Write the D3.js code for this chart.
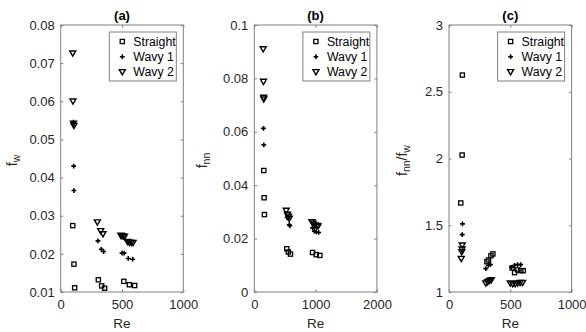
<!DOCTYPE html>
<html><head><meta charset="utf-8">
<script src="https://cdn.jsdelivr.net/npm/d3@7"></script>
<style>body{margin:0;background:#fff}svg{display:block;font-family:"Liberation Sans",Arial,sans-serif}</style>
</head><body><svg id="c" width="586" height="332"></svg>
<script>
// ---- Data ----
const seriesNames = ["Straight", "Wavy 1", "Wavy 2"];
const panelTitles = ["(a)", "(b)", "(c)"];

// Panel (a): f_w vs Re
const aStraightRe = [98, 108, 114, 307, 334, 358, 515, 560, 603];
const aStraightY  = [0.0274, 0.0173, 0.0111, 0.0132, 0.0116, 0.0110, 0.0128, 0.0119, 0.0117];
const aWavy1Re = [104, 106, 108, 304, 331, 350, 500, 517, 551, 587];
const aWavy1Y  = [0.0545, 0.0430, 0.0366, 0.0234, 0.0212, 0.0206, 0.0202, 0.0202, 0.0188, 0.0186];
const aWavy2Re = [98, 100, 104, 108, 299, 326, 345, 490, 500, 510, 520, 545, 560, 575, 590];
const aWavy2Y  = [0.0726, 0.0600, 0.0542, 0.0536, 0.0283, 0.0260, 0.0252, 0.0248, 0.0247, 0.0246, 0.0245, 0.0232, 0.0230, 0.0229, 0.0229];

// Panel (b): f_nn vs Re
const bStraightRe = [155, 160, 165, 530, 555, 590, 950, 1010, 1070];
const bStraightY  = [0.0455, 0.0353, 0.0290, 0.0162, 0.0150, 0.0142, 0.0148, 0.0140, 0.0137];
const bWavy1Re = [150, 155, 535, 555, 570, 580, 950, 980, 1010, 1050];
const bWavy1Y  = [0.0613, 0.0551, 0.0280, 0.0275, 0.0252, 0.0248, 0.0240, 0.0228, 0.0225, 0.0223];
const bWavy2Re = [145, 150, 152, 155, 520, 540, 555, 570, 940, 960, 990, 1020, 1040];
const bWavy2Y  = [0.0910, 0.0788, 0.0728, 0.0722, 0.0305, 0.0290, 0.0283, 0.0275, 0.0262, 0.0257, 0.0250, 0.0248, 0.0246];

// Panel (c): f_nn/f_w vs Re
const cStraightRe = [96, 107, 109, 309, 322, 342, 358, 515, 535, 560, 585, 605];
const cStraightY  = [1.667, 2.026, 2.625, 1.227, 1.240, 1.272, 1.285, 1.180, 1.145, 1.165, 1.160, 1.160];
const cWavy1Re = [110, 108, 300, 320, 338, 510, 535, 560, 585];
const cWavy1Y  = [1.51, 1.43, 1.175, 1.20, 1.205, 1.185, 1.20, 1.205, 1.205];
const cWavy2Re = [108, 106, 104, 100, 300, 315, 330, 345, 500, 520, 540, 560, 580, 600];
const cWavy2Y  = [1.35, 1.32, 1.30, 1.25, 1.065, 1.075, 1.085, 1.09, 1.065, 1.06, 1.06, 1.065, 1.07, 1.07];

// Axis ticks
const aXTicks = [0, 500, 1000], aYTicks = [0.01, 0.02, 0.03, 0.04, 0.05, 0.06, 0.07, 0.08];
const bXTicks = [0, 1000, 2000], bYTicks = [0, 0.02, 0.04, 0.06, 0.08, 0.1];
const cXTicks = [0, 500, 1000], cYTicks = [1, 1.5, 2, 2.5, 3];

const panels = [
  {title: panelTitles[0], left: 60.7, xDom: [0, 1000], yDom: [0.01, 0.08], xt: aXTicks, yt: aYTicks,
   series: [[aStraightRe, aStraightY], [aWavy1Re, aWavy1Y], [aWavy2Re, aWavy2Y]],
   ylab: [["f", 0], ["w", 1]], ylx: 17},
  {title: panelTitles[1], left: 254.3, xDom: [0, 2000], yDom: [0, 0.1], xt: bXTicks, yt: bYTicks,
   series: [[bStraightRe, bStraightY], [bWavy1Re, bWavy1Y], [bWavy2Re, bWavy2Y]],
   ylab: [["f", 0], ["nn", 1]], ylx: 207},
  {title: panelTitles[2], left: 449, xDom: [0, 1000], yDom: [1, 3], xt: cXTicks, yt: cYTicks,
   series: [[cStraightRe, cStraightY], [cWavy1Re, cWavy1Y], [cWavy2Re, cWavy2Y]],
   ylab: [["f", 0], ["nn", 1], ["/f", 0], ["w", 1]], ylx: 407}
];

const W = 122.6, plotTop = 25, plotBottom = 292;
const axisCol = "#808080", textCol = "#262626";
const svg = d3.select("#c");

function marker(g, type, x, y) {
  if (type === 0) {
    g.append("rect").attr("x", x - 2.1).attr("y", y - 2.1).attr("width", 4.2).attr("height", 4.2)
      .attr("fill", "none").attr("stroke", "#000").attr("stroke-width", 1.3);
  } else if (type === 1) {
    g.append("path").attr("d", `M${x-2.4},${y}H${x+2.4}M${x},${y-2.4}V${y+2.4}`)
      .attr("stroke", "#000").attr("stroke-width", 1.6).attr("fill", "none");
  } else {
    g.append("path").attr("d", `M${x-3},${y-2.3}L${x+3},${y-2.3}L${x},${y+2.9}Z`)
      .attr("fill", "none").attr("stroke", "#000").attr("stroke-width", 1.4).attr("stroke-linejoin", "miter");
  }
}

panels.forEach(p => {
  const x = d3.scaleLinear().domain(p.xDom).range([p.left, p.left + W]);
  const y = d3.scaleLinear().domain(p.yDom).range([plotBottom, plotTop]);
  const g = svg.append("g");

  g.append("rect").attr("x", p.left).attr("y", plotTop).attr("width", W).attr("height", plotBottom - plotTop)
    .attr("fill", "#fff").attr("stroke", axisCol).attr("stroke-width", 1);

  const fmt = d => String(+d.toFixed(4));
  const xa = g.append("g").attr("transform", `translate(0,${plotBottom})`)
    .call(d3.axisBottom(x).tickValues(p.xt).tickSize(-2.7).tickPadding(8).tickFormat(fmt));
  const xt2 = g.append("g").attr("transform", `translate(0,${plotTop})`)
    .call(d3.axisTop(x).tickValues(p.xt).tickSize(-2.7).tickFormat(""));
  const ya = g.append("g").attr("transform", `translate(${p.left},0)`)
    .call(d3.axisLeft(y).tickValues(p.yt).tickSize(-2.7).tickPadding(6).tickFormat(fmt));
  const ya2 = g.append("g").attr("transform", `translate(${p.left + W},0)`)
    .call(d3.axisRight(y).tickValues(p.yt).tickSize(-2.7).tickFormat(""));
  [xa, xt2, ya, ya2].forEach(a => {
    a.select(".domain").remove();
    a.selectAll("line").attr("stroke", axisCol);
    a.selectAll("text").attr("fill", textCol).style("font-size", "13px").style("font-family", '"Liberation Sans",Arial,sans-serif');
  });

  g.append("text").attr("x", p.left + W / 2).attr("y", 20).attr("text-anchor", "middle")
    .attr("font-weight", "bold").attr("font-size", 13).attr("fill", "#000").text(p.title);

  g.append("text").attr("x", p.left + W / 2).attr("y", 328).attr("text-anchor", "middle")
    .attr("font-size", 13.5).attr("fill", textCol).text("Re");

  const yl = g.append("text").attr("transform", `translate(${p.ylx},${(plotTop + plotBottom) / 2 + 2}) rotate(-90)`)
    .attr("text-anchor", "middle").attr("font-size", 14).attr("fill", textCol);
  p.ylab.forEach(([t, sub]) => {
    yl.append("tspan").attr("font-size", sub ? 10.5 : 14).attr("baseline-shift", sub ? "-3" : "0").text(t);
  });

  const dg = g.append("g");
  p.series.forEach(([xs, ys], si) => {
    xs.forEach((xv, i) => marker(dg, si, x(xv), y(ys[i])));
  });

  const lx = p.left + W - 7 - 67, ly = plotTop + 7;
  g.append("rect").attr("x", lx).attr("y", ly).attr("width", 67).attr("height", 49)
    .attr("fill", "#fff").attr("stroke", axisCol).attr("stroke-width", 1);
  seriesNames.forEach((n, i) => {
    const cy = ly + 9.5 + i * 15.2;
    marker(g, i, lx + 13, cy);
    g.append("text").attr("x", lx + 24).attr("y", cy + 4.3).attr("font-size", 12.3)
      .attr("fill", "#000").text(n);
  });
});
</script></body></html>
